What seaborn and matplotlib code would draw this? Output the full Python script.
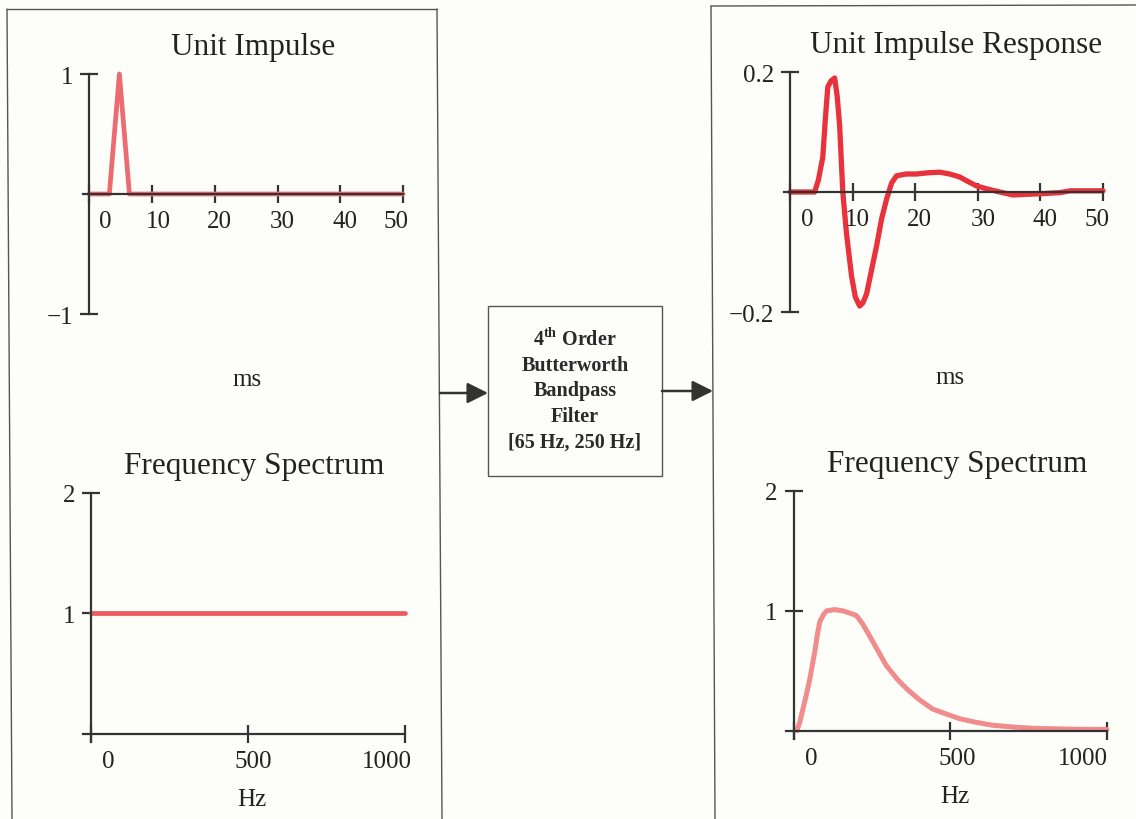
import matplotlib
matplotlib.use('Agg')
from matplotlib import pyplot as plt
from matplotlib.patches import Rectangle
import seaborn as sbn

# --- data ---
# input: unit impulse (ms) and its flat spectrum (Hz)
imp_t = [0, 3.2, 4.8, 6.4, 50]
imp_v = [0, 0, 1, 0, 0]
flat_f = [0, 1000]
flat_v = [1, 1]

# output: impulse response of the filter (ms) and its spectrum (Hz)
resp_t = [0, 3.9, 4.5, 5.2, 5.6, 6.0, 6.5, 7.1, 7.5, 7.9, 8.4, 9.0, 9.8, 10.4,
          11.1, 11.6, 12.2, 13.0, 13.8, 14.6, 15.4, 16.2, 17.0, 18.5, 20.2, 22.0,
          23.9, 25.5, 27.1, 28.5, 29.8, 31.5, 33.5, 35.6, 37.5, 39.9, 43.1, 44.8, 50]
resp_v = [0, 0, 0.02, 0.058, 0.12, 0.175, 0.185, 0.19, 0.16, 0.11, 0, -0.07, -0.14,
          -0.175, -0.19, -0.185, -0.17, -0.13, -0.09, -0.045, -0.012, 0.015, 0.027,
          0.03, 0.03, 0.032, 0.033, 0.03, 0.025, 0.017, 0.01, 0.005, 0, -0.005,
          -0.004, -0.003, -0.001, 0.002, 0.002]
spec_f = [10, 20, 29, 40, 51, 60, 67, 75, 83, 95, 105, 130, 156, 180, 200, 220, 242,
          270, 296, 330, 360, 400, 443, 485, 529, 580, 634, 700, 761, 880, 1000]
spec_v = [0, 0.08, 0.18, 0.3, 0.43, 0.56, 0.66, 0.8, 0.91, 0.97, 1.0, 1.01, 1.0,
          0.98, 0.96, 0.89, 0.79, 0.66, 0.54, 0.43, 0.35, 0.26, 0.18, 0.14, 0.1,
          0.07, 0.045, 0.03, 0.02, 0.012, 0.01]

ms_ticks = [0, 10, 20, 30, 40, 50]
hz_ticks = [0, 500, 1000]
filter_lines = [r'4$^{\mathbf{th}}$ Order', 'Butterworth', 'Bandpass', 'Filter',
                '[65 Hz, 250 Hz]']

sbn.set_style('white')
plt.rcParams['font.family'] = ['Liberation Serif', 'DejaVu Serif']
plt.rcParams['mathtext.fontset'] = 'custom'
plt.rcParams['mathtext.rm'] = 'Liberation Serif'
plt.rcParams['mathtext.bf'] = 'Liberation Serif:bold'

W, H = 1136, 820
BG = '#fdfdf9'
INK = '#333333'
TXT = '#222222'
fig = plt.figure(figsize=(W / 100, H / 100), dpi=100, facecolor=BG)

# overlay in pixel coords for boxes, arrows and free text
ov = fig.add_axes([0, 0, 1, 1], zorder=0)
ov.set_xlim(0, W)
ov.set_ylim(H, 0)
ov.axis('off')
ov.patch.set_alpha(0)

box_kw = dict(color='#555555', lw=1.0)
ov.plot([7, 12], [10, 820], **box_kw)
ov.plot([7, 437], [10, 10], **box_kw)
ov.plot([437, 442], [10, 820], **box_kw)
ov.plot([711, 715], [7, 820], **box_kw)
ov.plot([711, 1136], [7, 6], **box_kw)
ov.add_patch(Rectangle((488, 307), 174, 170, fill=False, edgecolor='#555555', lw=1.0))

arrow = dict(arrowstyle='-|>,head_length=0.7,head_width=0.35', mutation_scale=18,
             lw=1.8, color=INK, shrinkA=0, shrinkB=0)
ov.annotate('', xy=(488, 394), xytext=(440, 394), arrowprops=arrow)
ov.annotate('', xy=(713, 392), xytext=(662, 392), arrowprops=arrow)

for i, line in enumerate(filter_lines):
    ov.text(575, 340 + i * 25.6, line, ha='center', va='center', fontsize=14.5,
            fontweight='bold', color='#2a2a2a')

title_kw = dict(ha='center', va='center', fontsize=22.5, color=TXT)
ov.text(253, 48, 'Unit Impulse', **title_kw)
ov.text(956, 45, 'Unit Impulse Response', **title_kw)
ov.text(254, 467, 'Frequency Spectrum', **title_kw)
ov.text(957, 465, 'Frequency Spectrum', **title_kw)
unit_kw = dict(ha='center', va='center', fontsize=18, color=TXT)
ov.text(247, 380, 'ms', **unit_kw)
ov.text(950, 378, 'ms', **unit_kw)
ov.text(252, 800, 'Hz', **unit_kw)
ov.text(955, 797, 'Hz', **unit_kw)


def panel(l, t, r, b, xlim, ylim, xticks, label_dx, yticks):
    ax = fig.add_axes([l / W, 1 - b / H, (r - l) / W, (b - t) / H], zorder=2)
    ax.patch.set_alpha(0)
    ax.set_xlim(*xlim)
    ax.set_ylim(*ylim)
    for side in ['top', 'right']:
        ax.spines[side].set_visible(False)
    for side in ['left', 'bottom']:
        ax.spines[side].set_position(('data', 0))
        ax.spines[side].set_color(INK)
        ax.spines[side].set_linewidth(1.6)
    ax.set_xticks(xticks)
    ax.set_yticks(yticks)
    ax.tick_params(bottom=True, left=True, direction='inout', length=13, width=1.6,
                   color=INK, labelsize=18, labelcolor=TXT, labelbottom=False, pad=5)
    for v, dx in zip(xticks, label_dx):
        ax.annotate(str(v), xy=(v, 0), xytext=(dx, -27), textcoords='offset pixels',
                    ha='center', va='center', fontsize=18, color=TXT,
                    annotation_clip=False)
    return ax


ax1 = panel(83, 75, 403, 315, (-1, 50), (-1, 1), ms_ticks, [16, 6, 5, 5, 5, -7], [-1, 1])
sbn.lineplot(x=imp_t, y=imp_v, ax=ax1, color='#ec6a70', linewidth=3.4, clip_on=False)

ax2 = panel(784, 73, 1103, 313, (-1, 50), (-0.2, 0.2), ms_ticks, [17, 5, 4, 5, 5, -6], [-0.2, 0.2])
sbn.lineplot(x=resp_t, y=resp_v, ax=ax2, color='#e8333c', linewidth=3.8,
             solid_joinstyle='round', solid_capstyle='round', clip_on=False)

ax3 = panel(83, 494, 405, 743, (-25, 1000), (-0.07, 2), hz_ticks, [17, 5, -18], [1, 2])
sbn.lineplot(x=flat_f, y=flat_v, ax=ax3, color='#ec5a60', linewidth=3.4, clip_on=False)

ax4 = panel(786, 492, 1107, 740, (-25, 1000), (-0.07, 2), hz_ticks, [17, 7, -24], [1, 2])
sbn.lineplot(x=spec_f, y=spec_v, ax=ax4, color='#f08c8c', linewidth=3.6,
             solid_joinstyle='round', clip_on=False)

fig.savefig('out.png', dpi=100, facecolor=BG)
